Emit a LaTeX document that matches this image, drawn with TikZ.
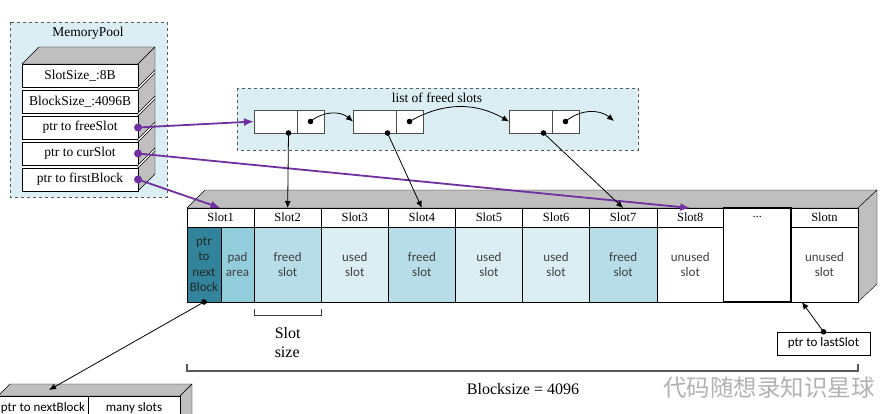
\documentclass[tikz,border=0pt]{standalone}
\usepackage{fontspec}
\setmainfont{Liberation Serif}
\newfontfamily\slotfont{Carlito}
\newfontfamily\cjkfont{Noto Sans CJK SC}
\usetikzlibrary{arrows.meta,positioning}
\definecolor{poolbg}{HTML}{DAEEF3}
\definecolor{ptrcol}{HTML}{31849B}
\definecolor{padcol}{HTML}{92CDDC}
\definecolor{freedcol}{HTML}{B7DDE8}
\definecolor{usedcol}{HTML}{DAEEF3}
\definecolor{ptrpurple}{HTML}{7030A0}
\definecolor{facegray}{HTML}{BFBFBF}
\tikzset{
  poolbox/.style={dashed, draw=black!65, fill=poolbg},
  poolrow/.style={draw, fill=white, minimum width=116pt, minimum height=23pt, inner sep=0pt, outer sep=0pt, font=\fontsize{13.5}{15}\selectfont},
  listpart/.style={draw=black!70, fill=white, minimum width=43pt, minimum height=23pt, inner sep=0pt, outer sep=0pt},
  slothead/.style={draw, fill=white, minimum width=67.1pt, minimum height=19pt, inner sep=0pt, outer sep=0pt, font=\fontsize{12.5}{14}\selectfont},
  slotbody/.style={draw, minimum width=67.1pt, minimum height=75pt, inner sep=0pt, outer sep=0pt, align=center, text=black!75, font=\slotfont\fontsize{13}{15}\selectfont},
  purplearrow/.style={ptrpurple, line width=1.8pt, -{Latex[length=10pt,width=8pt]}},
  listarrow/.style={black, line width=0.8pt, -{Latex[length=7pt,width=6pt]}}
}
\begin{document}
\begin{tikzpicture}[x=1pt,y=-1pt]
\useasboundingbox (0,0) rectangle (890,414);
\clip (0,0) rectangle (890,414);

% memory pool
\draw[poolbox] (10,22) rectangle (167,197);
\node[font=\fontsize{13.5}{15}\selectfont] (mp) at (88,33) {MemoryPool};
\fill[white] (22,64) rectangle (138,191);
\draw[fill=facegray] (22,64) -- (39,47) -- (155,47) -- (138,64) -- cycle;
\draw[fill=facegray] (138,64) -- (155,47) -- (155,174) -- (138,191) -- cycle;
\node[poolrow] (ssize) at (80,75.5) {SlotSize\_:8B};
\node[poolrow, below=3pt of ssize] (bsize) {BlockSize\_:4096B};
\node[poolrow, below=3pt of bsize] (pfree) {ptr to freeSlot};
\node[poolrow, below=3pt of pfree] (pcur) {ptr to curSlot};
\node[poolrow, below=3pt of pcur] (pfirst) {ptr to firstBlock};
\foreach \r in {ssize,bsize,pfree,pcur}
  \filldraw[fill=white] (\r.south east) -- ++(17,-17) -- ++(0,3) -- ++(-17,17) -- cycle;
\foreach \r in {pfree,pcur,pfirst}
  \fill[ptrpurple] (\r.east) circle (4pt);

% list of freed slots
\draw[poolbox] (237,88) rectangle (638,150);
\node[font=\fontsize{13.5}{15}\selectfont] (lf) at (437,98) {list of freed slots};
\node[listpart] (l1a) at (275.5,121.5) {};
\node[listpart, minimum width=27pt, right=0pt of l1a] (l1b) {};
\node[listpart] (l2a) at (374.5,121.5) {};
\node[listpart, minimum width=27pt, right=0pt of l2a] (l2b) {};
\node[listpart] (l3a) at (530.5,121.5) {};
\node[listpart, minimum width=27pt, right=0pt of l3a] (l3b) {};
\coordinate (lend) at (614,121);
\foreach \n in {l1,l2,l3} {
  \coordinate (\n dot) at ([xshift=13pt]\n a.south);
  \fill (\n b.center) circle (2.8pt);
  \fill (\n dot) circle (2.8pt);
}
\draw[listarrow] (l1b.center) to[bend left=40] (l2a.west);
\draw[listarrow] (l2b.center) to[bend left=30] (l3a.west);
\draw[listarrow] (l3b.center) to[bend left=40] (lend);

% memory block
\draw[fill=facegray] (187,208) -- (205,190) -- (877,190) -- (858,208) -- cycle;
\draw[fill=facegray] (858,208) -- (877,190) -- (877,284) -- (858,302) -- cycle;
\node[slothead] (h1) at (220.55,217.5) {Slot1};
\node[slotbody, minimum width=34pt, fill=ptrcol, text=black!85, font=\slotfont\fontsize{13}{15.5}\selectfont] (bptr) at (204,264.5) {ptr\\to\\next\\Block};
\node[slotbody, minimum width=33.1pt, fill=padcol] (bpad) at (237.55,264.5) {pad\\area};
\foreach \i/\txt/\col in {2/freed/freedcol, 3/used/usedcol, 4/freed/freedcol, 5/used/usedcol, 6/used/usedcol, 7/freed/freedcol, 8/unused/white} {
  \node[slothead] (h\i) at ({187+67.1*(\i-0.5)},217.5) {Slot\i};
  \node[slotbody, fill=\col] (b\i) at ({187+67.1*(\i-0.5)},264.5) {\txt\\slot};
}
\node[draw, fill=white, line width=1.2pt, minimum width=67.1pt, minimum height=94pt, inner sep=0pt, outer sep=0pt] (dd) at (757.35,255) {};
\node[font=\fontsize{12}{14}\selectfont] (ddtxt) at (757.35,217) {...};
\node[slothead] (hn) at (824.45,217.5) {Slotn};
\node[slotbody, fill=white] (sn) at (824.45,264.5) {unused\\slot};

% next block
\coordinate (nbtop) at (49,390);
\draw[fill=facegray] (-2,396) -- (10,384) -- (192,384) -- (180,396) -- cycle;
\draw[fill=facegray] (180,396) -- (192,384) -- (192,420) -- (180,432) -- cycle;
\node[draw, fill=white, minimum width=90pt, minimum height=24pt, inner sep=0pt, outer sep=0pt, font=\slotfont\fontsize{13}{15}\selectfont] (nbptr) at (43,408) {ptr to nextBlock};
\node[draw, fill=white, minimum width=92pt, minimum height=24pt, inner sep=0pt, outer sep=0pt, font=\slotfont\fontsize{13}{15}\selectfont, right=0pt of nbptr] (nbslots) {many slots};

% pointers
\draw[purplearrow] (pfree.east) -- (l1a.west);
\draw[purplearrow] (pcur.east) -- (h8.north);
\draw[purplearrow] (pfirst.east) -- (h1.north);
\draw[listarrow] (l1dot) -- (h2.north);
\draw[listarrow] (l2dot) -- (h4.north);
\draw[listarrow] (l3dot) -- (h7.north);
\fill (bptr.south) circle (2.8pt);
\draw[listarrow] (bptr.south) -- (nbtop);

% sizes
\draw[line width=1pt, black!75] ([yshift=-7pt]b2.south west) -- ([yshift=-13pt]b2.south west) -- ([yshift=-13pt]b2.south east) -- ([yshift=-7pt]b2.south east);
\node[align=left, font=\fontsize{16}{19}\selectfont] (ssz) at (287.65,343) {Slot\\size};
\draw[line width=1.6pt, black!65] ([yshift=-62pt]bptr.south west) -- ([yshift=-69pt]bptr.south west) -- ([yshift=-69pt]sn.south east) -- ([yshift=-62pt]sn.south east);
\node[font=\fontsize{16}{19}\selectfont] (bsz) at (523,389) {Blocksize = 4096};

% last slot
\node[draw, fill=white, minimum width=93pt, minimum height=23pt, inner sep=0pt, font=\slotfont\fontsize{13}{15}\selectfont] (lastslot) at (823.5,343.5) {ptr to lastSlot};
\fill (lastslot.north) circle (2.8pt);
\draw[listarrow] (lastslot.north) -- ([xshift=11pt]sn.south west);

\node[text=gray!60, font=\cjkfont\fontsize{23.5}{25}\selectfont] (wm) at (769,388) {代码随想录知识星球};
\end{tikzpicture}
\end{document}
